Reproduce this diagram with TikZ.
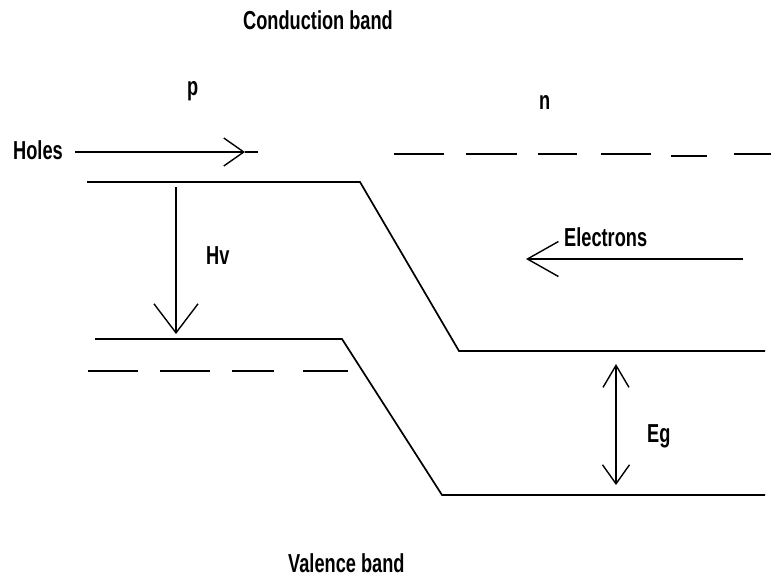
\documentclass[tikz,border=0pt]{standalone}
\usepackage{fontspec}
\setmainfont{Liberation Sans}
\usetikzlibrary{arrows.meta}
\newcommand\lbltxt[1]{\scalebox{0.7}[1]{\bfseries\fontsize{26}{26}\selectfont #1}}
\tikzset{
  lbl/.style={inner sep=0pt, anchor=base west},
  band/.style={line width=1.7pt, line join=miter},
  dsh/.style={line width=1.7pt},
  arr/.style={line width=1.5pt},
}
\begin{document}
\begin{tikzpicture}[x=1pt,y=-1pt]
\useasboundingbox (0,0) rectangle (771,576);
% labels
\node[lbl] (cb) at (243,29) {\lbltxt{Conduction band}};
\node[lbl] (vb) at (288,572) {\lbltxt{Valence band}};
\node[lbl] (p) at (187,95) {\lbltxt{p}};
\node[lbl] (n) at (539,109) {\lbltxt{n}};
\node[lbl] (holes) at (13,159) {\lbltxt{Holes}};
\node[lbl] (hv) at (206,264) {\lbltxt{Hv}};
\node[lbl] (el) at (564,246) {\lbltxt{Electrons}};
\node[lbl] (eg) at (647,442) {\lbltxt{Eg}};
% bands
\coordinate (c1) at (87,182); \coordinate (c2) at (360,182);
\coordinate (c3) at (459,351); \coordinate (c4) at (765,351);
\coordinate (v1) at (95,339); \coordinate (v2) at (342,339);
\coordinate (v3) at (442,495); \coordinate (v4) at (765,495);
\draw[band] (c1) -- (c2) -- (c3) -- (c4);
\draw[band] (v1) -- (v2) -- (v3) -- (v4);
% dashed levels
\foreach \a/\b/\y in {394/444/154,466/517/154,538/577/154,601/651/154,671/707/156,734/771/154}
  \draw[dsh] (\a,\y) -- (\b,\y);
\foreach \a/\b in {88/138,160/210,232/274,303/348}
  \draw[dsh] (\a,371) -- (\b,371);
% holes arrow
\coordinate (h0) at (75,152); \coordinate (htip) at (245,152); \coordinate (hend) at (258,152);
\draw[arr, -{Straight Barb[length=20pt,width=28pt,line width=1.4pt]}] (h0) -- (htip);
\draw[arr] (htip) -- (hend);
% hv arrow
\coordinate (hv0) at (176,187); \coordinate (hv1) at (176,334);
\draw[arr, -{Straight Barb[length=29pt,width=44pt,line width=1.4pt]}] (hv0) -- (hv1);
% electrons arrow
\coordinate (e0) at (743,259); \coordinate (e1) at (526,259);
\draw[arr, -{Straight Barb[length=31pt,width=35pt,line width=1.4pt]}] (e0) -- (e1);
% Eg arrow
\coordinate (g0) at (616,364); \coordinate (g1) at (616,485);
\draw[arr, {Straight Barb[length=22pt,width=26pt,line width=1.4pt]}-{Straight Barb[length=19pt,width=27pt,line width=1.4pt]}] (g0) -- (g1);
\end{tikzpicture}
\end{document}
